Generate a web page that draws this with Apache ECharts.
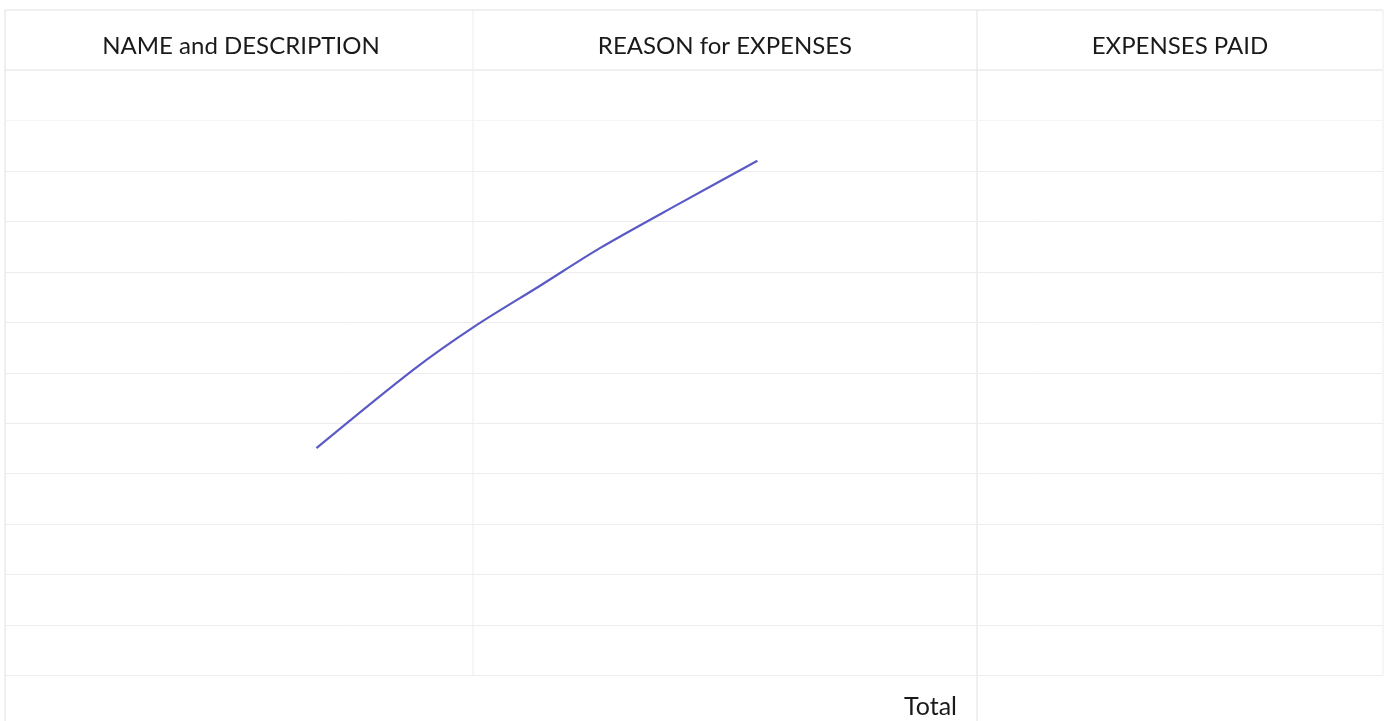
<!DOCTYPE html>
<html>
<head>
<meta charset="utf-8">
<script src="https://cdn.jsdelivr.net/npm/echarts@6/dist/echarts.min.js"></script>
<style>
html,body{margin:0;padding:0;background:#fff;}
#c{width:1385px;height:721px;}
</style>
</head>
<body>
<div id="c"></div>
<script>
// Column headers of the form
const headers = ['NAME and DESCRIPTION', 'REASON for EXPENSES', 'EXPENSES PAID'];
const footerLabel = 'Total';
// Hand-drawn stroke (x: % of table width, y: % of body height)
const strokeX = [22.6, 29.6, 34.0, 38.8, 43.2, 49.0, 54.6];
const strokeY = [37.5, 50.4, 57.5, 64.3, 70.6, 78.0, 85.0];

const chart = echarts.init(document.getElementById('c'), null, {renderer: 'canvas'});

const L = 5, R = 1383, T = 10, H = 70, B = 675, BOT = 721;
const col1 = 473, col2 = 977;
const rowStep = (B - H) / 12;

const graphics = [];
const faint = {stroke: '#ededed', lineWidth: 1};
const mid = {stroke: '#e0e0e0', lineWidth: 1};
graphics.push({type: 'line', shape: {x1: L, y1: T, x2: R, y2: T}, style: mid, silent: true});
graphics.push({type: 'line', shape: {x1: L, y1: H, x2: R, y2: H}, style: mid, silent: true});
graphics.push({type: 'line', shape: {x1: L, y1: T, x2: L, y2: BOT}, style: mid, silent: true});
graphics.push({type: 'line', shape: {x1: R, y1: T, x2: R, y2: B}, style: faint, silent: true});
graphics.push({type: 'line', shape: {x1: col1, y1: T, x2: col1, y2: B}, style: faint, silent: true});
graphics.push({type: 'line', shape: {x1: col2, y1: T, x2: col2, y2: BOT}, style: mid, silent: true});
for (let i = 1; i <= 12; i++) {
  const y = Math.round(H + i * rowStep) + 0.5;
  graphics.push({type: 'line', shape: {x1: L, y1: y, x2: R, y2: y}, style: i === 1 ? {stroke: '#f4f4f4', lineWidth: 1} : faint, silent: true});
}
const centers = [241, 725, 1180];
headers.forEach((h, i) => {
  graphics.push({type: 'text', x: centers[i], y: 46, style: {text: h, font: '24px Lato', fill: '#1a1a1a', textAlign: 'center', textVerticalAlign: 'middle'}, silent: true});
});
graphics.push({type: 'text', x: 957, y: 707, style: {text: footerLabel, font: '25px Lato', fill: '#1a1a1a', textAlign: 'right', textVerticalAlign: 'middle'}, silent: true});

chart.setOption({
  animation: false,
  backgroundColor: '#fff',
  grid: {left: L, right: 1385 - R, top: H, bottom: 721 - B, containLabel: false, show: false},
  xAxis: {type: 'value', min: 0, max: 100, show: false},
  yAxis: {type: 'value', min: 0, max: 100, show: false},
  graphic: graphics,
  series: [{
    type: 'line',
    data: strokeX.map((x, i) => [x, strokeY[i]]),
    smooth: 0.3,
    symbol: 'none',
    lineStyle: {color: '#5a5ac6', width: 2.2},
    z: 10
  }]
});
</script>
</body>
</html>
